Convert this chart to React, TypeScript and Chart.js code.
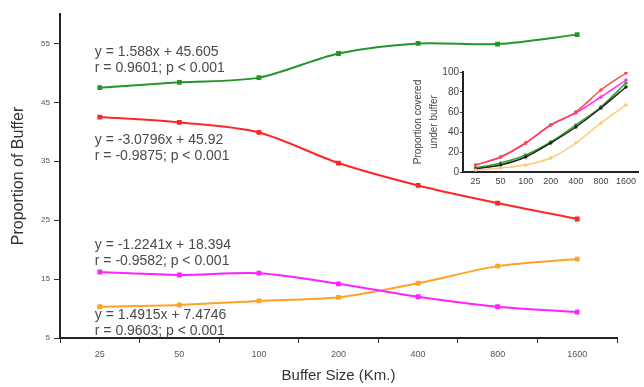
import React, { useEffect, useRef } from "react";
import { Chart, registerables } from "chart.js";

Chart.register(...registerables);

const categories = ["25", "50", "100", "200", "400", "800", "1600"];
const greenValues = [47.5, 48.4, 49.2, 53.3, 55.0, 54.9, 56.5];
const redValues = [42.5, 41.6, 39.9, 34.7, 30.9, 27.9, 25.2];
const magentaValues = [16.2, 15.7, 16.0, 14.2, 12.0, 10.3, 9.4];
const orangeValues = [10.3, 10.6, 11.3, 11.9, 14.3, 17.2, 18.4];
const yTicks = [5, 15, 25, 35, 45, 55];

const insetRed = [7, 15, 29, 47, 60, 82, 99];
const insetMagenta = [7, 15, 29, 47, 59, 75, 92];
const insetGreen = [4, 9, 17, 30, 47, 65, 89];
const insetBlack = [3, 7, 15, 29, 45, 64, 85];
const insetOrange = [2, 4, 7, 14, 29, 49, 67];
const insetTicks = [0, 20, 40, 60, 80, 100];

const annotations = [
  { lines: ["y = 1.588x + 45.605", "r = 0.9601; p < 0.001"], at: 53.5 },
  { lines: ["y = -3.0796x + 45.92", "r = -0.9875; p < 0.001"], at: 38.6 },
  { lines: ["y = -1.2241x + 18.394", "r = -0.9582; p < 0.001"], at: 20.8 },
  { lines: ["y = 1.4915x + 7.4746", "r = 0.9603; p < 0.001"], at: 8.9 },
];

const FONT = "'Liberation Sans', Arial, sans-serif";

const annotationPlugin = {
  id: "eqAnnotations",
  afterDatasetsDraw(chart: any) {
    const ctx = chart.ctx;
    const xs = chart.scales.x;
    const ys = chart.scales.y;
    ctx.save();
    ctx.font = `14px ${FONT}`;
    ctx.fillStyle = "#4a4a4a";
    ctx.textAlign = "left";
    ctx.textBaseline = "middle";
    const x0 = xs.getPixelForValue(0) - 5;
    annotations.forEach((a) => {
      const y0 = ys.getPixelForValue(a.at);
      a.lines.forEach((t, i) => ctx.fillText(t, x0, y0 + i * 16));
    });
    ctx.restore();
  },
};

export default function App() {
  const mainRef = useRef<HTMLCanvasElement>(null);
  const insetRef = useRef<HTMLCanvasElement>(null);

  useEffect(() => {
    const mk = (label: string, data: number[], color: string) => ({
      label,
      data,
      borderColor: color,
      backgroundColor: color,
      borderWidth: 2,
      pointRadius: 2,
      pointStyle: "rect" as const,
      tension: 0.3,
    });
    const main = new Chart(mainRef.current!, {
      type: "line",
      data: {
        labels: categories,
        datasets: [
          mk("green", greenValues, "#23962a"),
          mk("red", redValues, "#ff2626"),
          mk("magenta", magentaValues, "#ff22ff"),
          mk("orange", orangeValues, "#ffa226"),
        ],
      },
      options: {
        animation: false,
        responsive: true,
        maintainAspectRatio: false,
        layout: { padding: { top: 14, right: 27, left: 0, bottom: 0 } },
        plugins: { legend: { display: false }, tooltip: { enabled: false } },
        scales: {
          x: {
            type: "category",
            offset: true,
            afterFit: (s: any) => {
              s.height = 49;
            },
            grid: { drawOnChartArea: false, offset: true, tickLength: 5, color: "#333" },
            border: { color: "#222", width: 2 },
            ticks: { font: { size: 9, family: FONT }, color: "#555", padding: 6 },
            title: {
              display: true,
              text: "Buffer Size (Km.)",
              font: { size: 15, family: FONT },
              color: "#333",
              padding: { top: 0, bottom: 2 },
            },
          },
          y: {
            min: 5,
            max: 60,
            afterFit: (s: any) => {
              s.width = 60;
            },
            afterBuildTicks: (s: any) => {
              s.ticks = yTicks.map((v) => ({ value: v }));
            },
            grid: { drawOnChartArea: false, tickLength: 6, color: "#333" },
            border: { color: "#222", width: 2 },
            ticks: { font: { size: 8, family: FONT }, color: "#555", padding: 4 },
            title: {
              display: true,
              text: "Proportion of Buffer",
              font: { size: 16, family: FONT },
              color: "#333",
              padding: { top: 9, bottom: 0 },
            },
          },
        },
      },
      plugins: [annotationPlugin],
    });

    const mi = (label: string, data: number[], color: string) => ({
      label,
      data,
      borderColor: color,
      backgroundColor: color,
      borderWidth: 1.5,
      pointRadius: 1,
      tension: 0.3,
    });
    const inset = new Chart(insetRef.current!, {
      type: "line",
      data: {
        labels: categories,
        datasets: [
          mi("orange", insetOrange, "#ffc870"),
          mi("black", insetBlack, "#222"),
          mi("green", insetGreen, "#2fa030"),
          mi("red", insetRed, "#ff4a4a"),
          mi("magenta", insetMagenta, "#ff2cff"),
        ],
      },
      options: {
        animation: false,
        responsive: true,
        maintainAspectRatio: false,
        layout: { padding: { top: 10, right: 4, left: 0, bottom: 0 } },
        plugins: { legend: { display: false }, tooltip: { enabled: false } },
        scales: {
          x: {
            type: "category",
            offset: true,
            afterFit: (s: any) => {
              s.height = 20;
            },
            grid: { display: false, drawTicks: false, tickLength: 0 },
            border: { color: "#222", width: 2 },
            ticks: { font: { size: 9, family: FONT }, color: "#444", padding: 4, maxRotation: 0, autoSkip: false },
          },
          y: {
            min: 0,
            max: 100,
            afterFit: (s: any) => {
              s.width = 63;
            },
            afterBuildTicks: (s: any) => {
              s.ticks = insetTicks.map((v) => ({ value: v }));
            },
            grid: { drawOnChartArea: false, tickLength: 3, color: "#333" },
            border: { color: "#222", width: 2 },
            ticks: { font: { size: 10, family: FONT }, color: "#444", padding: 1 },
            title: {
              display: true,
              text: ["Proportion covered", "under buffer"],
              font: { size: 10, family: FONT, lineHeight: 1.6 },
              color: "#444",
              padding: { top: 10, bottom: 0 },
            },
          },
        },
      },
    });

    return () => {
      main.destroy();
      inset.destroy();
    };
  }, []);

  return (
    <div style={{ position: "fixed", left: 0, top: 0, width: 644, height: 387, background: "#fff" }}>
      <canvas ref={mainRef} />
      <div style={{ position: "absolute", left: 400, top: 62, width: 244, height: 130 }}>
        <canvas ref={insetRef} />
      </div>
    </div>
  );
}
